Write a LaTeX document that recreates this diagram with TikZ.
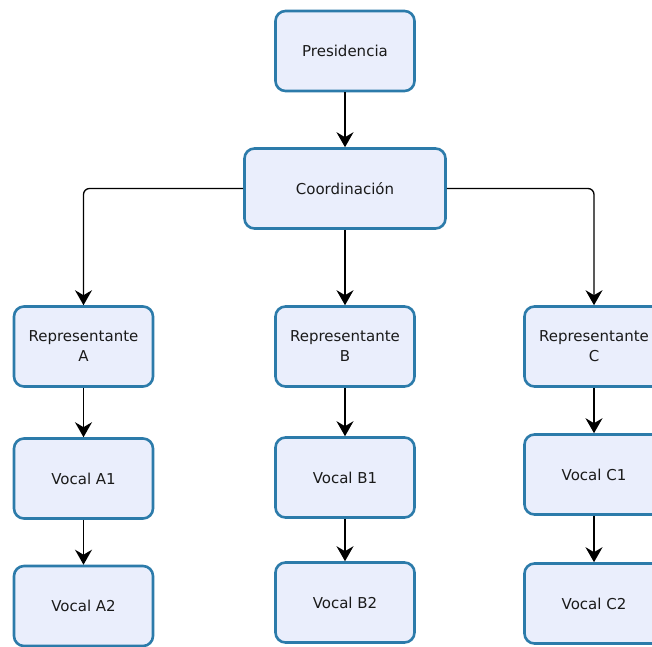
\documentclass[tikz,border=0pt]{standalone}
\usepackage{fontspec}
\setmainfont{DejaVu Sans}
\usetikzlibrary{arrows.meta}
\definecolor{boxfill}{HTML}{EAEEFC}
\definecolor{boxline}{HTML}{2C7BAA}
\definecolor{txt}{HTML}{1A1A1A}
\begin{document}
\begin{tikzpicture}[x=1pt,y=-1pt,
  orgbox/.style={draw=boxline, line width=2.6pt, fill=boxfill, rounded corners=10pt,
    minimum width=139pt, minimum height=80pt, inner sep=0pt, outer sep=1.3pt,
    align=center, text=txt, font=\fontsize{15}{20}\selectfont},
  link/.style={draw=black, line width=1.6pt, -{Stealth[length=15pt,width=17pt,inset=5pt]}}
]
\useasboundingbox (0,0) rectangle (652,646);
\clip (0,0) rectangle (652,646);
\node[orgbox] (pres) at (345,51) {Presidencia};
\node[orgbox, minimum width=201pt] (coord) at (345,188.5) {Coordinación};
\node[orgbox] (repA) at (83.5,346.5) {Representante\\A};
\node[orgbox] (repB) at (345,346.5) {Representante\\B};
\node[orgbox] (repC) at (594,346.5) {Representante\\C};
\node[orgbox] (vA1) at (83.5,478.5) {Vocal A1};
\node[orgbox] (vA2) at (83.5,606) {Vocal A2};
\node[orgbox] (vB1) at (345,477.5) {Vocal B1};
\node[orgbox] (vB2) at (345,602.5) {Vocal B2};
\node[orgbox] (vC1) at (594,474.5) {Vocal C1};
\node[orgbox] (vC2) at (594,603.5) {Vocal C2};
\draw[link] (pres) -- (coord);
\draw[link] (coord) -- (repB);
\draw[link, line width=1.3pt, rounded corners=6pt] (coord.west) -| (repA.north);
\draw[link, line width=1.3pt, rounded corners=6pt] (coord.east) -| (repC.north);
\draw[link] (repA) -- (vA1);
\draw[link] (vA1) -- (vA2);
\draw[link] (repB) -- (vB1);
\draw[link] (vB1) -- (vB2);
\draw[link] (repC) -- (vC1);
\draw[link] (vC1) -- (vC2);
\end{tikzpicture}
\end{document}
